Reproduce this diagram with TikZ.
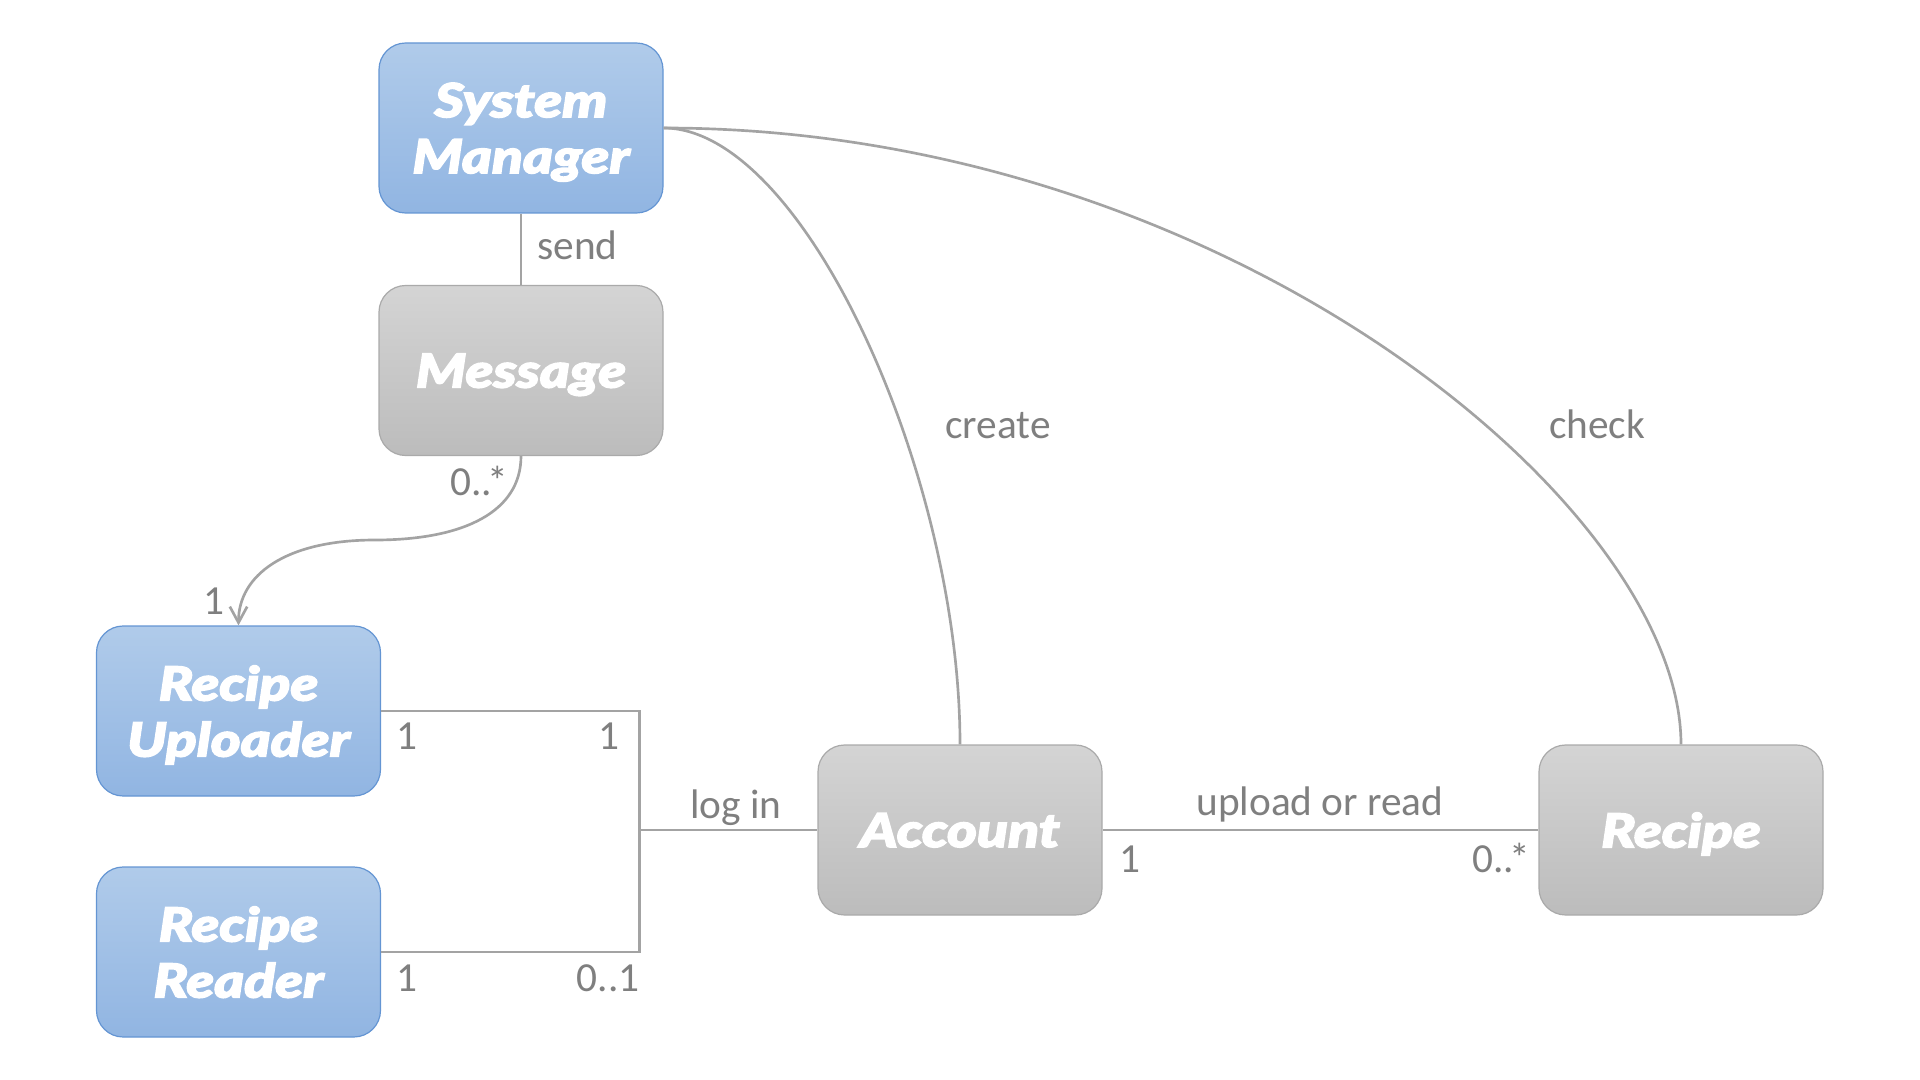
\documentclass[tikz,border=0pt]{standalone}
\usepackage{fontspec}
\usetikzlibrary{arrows.meta}
\setmainfont{Carlito}
\newfontfamily\nodefont{Lato Black Italic}[FakeBold=3.5,FakeStretch=1.22]
\definecolor{bluetop}{HTML}{B0CBEA}
\definecolor{bluebot}{HTML}{91B5E2}
\definecolor{blueedge}{HTML}{6495D3}
\definecolor{greytop}{HTML}{D4D4D4}
\definecolor{greybot}{HTML}{BCBCBC}
\definecolor{greyedge}{HTML}{AAAAAA}
\definecolor{linegrey}{HTML}{A3A3A3}
\definecolor{labelgrey}{HTML}{7F7F7F}
\newcommand{\manystar}{0..\kern-3.5pt*}
\begin{document}
\begin{tikzpicture}[x=0.75pt,y=-0.75pt,
  box/.style={rounded corners=20pt, minimum width=213pt, minimum height=127.5pt,
    line width=0.9pt, align=center, text=white, text depth=0pt,
    font=\nodefont\fontsize{35}{42}\selectfont},
  bluebox/.style={box, draw=blueedge, top color=bluetop, bottom color=bluebot},
  greybox/.style={box, draw=greyedge, top color=greytop, bottom color=greybot},
  conn/.style={draw=linegrey, line width=2.2pt},
  curveconn/.style={draw=linegrey, line width=2pt},
  lbl/.style={text=labelgrey, inner sep=0pt, font=\fontsize{31}{36}\selectfont}]
\useasboundingbox (0,0) rectangle (1920,1080);

\node[bluebox] (sm) at (521,128) {System\\Manager};
\node[greybox] (msg) at (521,370.5) {Message};
\node[bluebox] (upl) at (238.5,711) {Recipe\\Uploader};
\node[bluebox] (rdr) at (238.5,952) {Recipe\\Reader};
\node[greybox] (acc) at (960,830) {Account};
\node[greybox] (rec) at (1681,830) {Recipe};
\coordinate (j) at (639.5,830);
\coordinate (mc) at (375,540);

% connectors
\draw[conn] (sm.south) -- (msg.north);
\draw[curveconn, -{Straight Barb[length=12pt,width=13pt]}] (msg.south) .. controls +(0,55) and +(90,0) .. (mc) .. controls +(-90,0) and +(0,-50) .. (upl.north);
\draw[conn] (upl.east) -- (j |- upl.east) -- (j |- rdr.east) -- (rdr.east);
\draw[conn] (j) -- (acc.west);
\draw[conn] (acc.east) -- (rec.west);
\draw[curveconn] (sm.east) .. controls +(140,0) and +(0,-270) .. (acc.north);
\draw[curveconn] (sm.east) .. controls +(560,0) and +(0,-240) .. (rec.north);

% labels
\node[lbl, anchor=base west] (lsend) at (537,260) {send};
\node[lbl, anchor=base west] (lmsgm) at (450,495) {\manystar};
\node[lbl, anchor=base east] (luplm) at (225,614) {1};
\node[lbl, anchor=base west] (lupl1) at (396,749) {1};
\node[lbl, anchor=base east] (lupl2) at (620,749) {1};
\node[lbl, anchor=base] (llog) at (736,818) {log in};
\node[lbl, anchor=base west] (lrdr1) at (396,991) {1};
\node[lbl, anchor=base east] (lrdr2) at (640,991) {0..1};
\node[lbl, anchor=base] (lup) at (1320,815) {upload or read};
\node[lbl, anchor=base west] (lacc) at (1119,872) {1};
\node[lbl, anchor=base west] (lrec) at (1472,872) {\manystar};
\node[lbl, anchor=base] (lcreate) at (998,438) {create};
\node[lbl, anchor=base] (lcheck) at (1597,438) {check};
\end{tikzpicture}
\end{document}
